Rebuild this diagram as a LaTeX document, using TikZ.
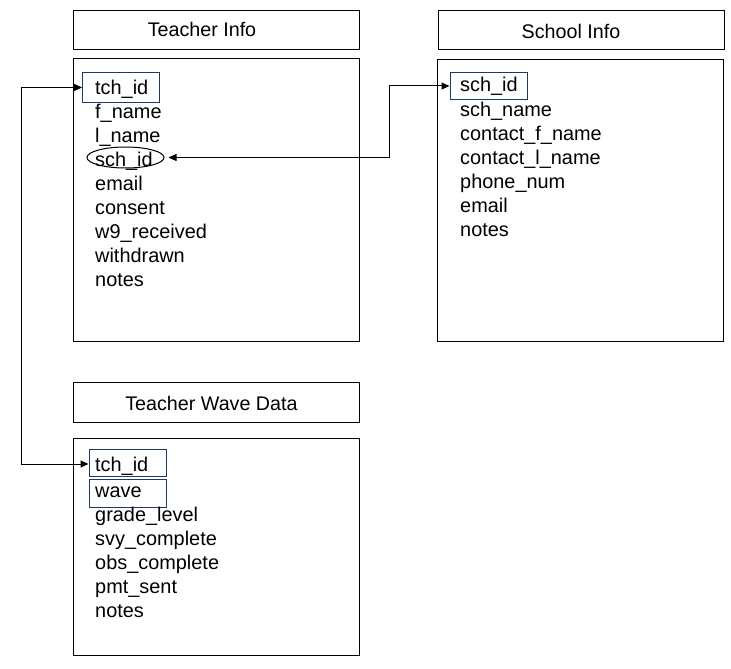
\documentclass[tikz,border=0pt]{standalone}
\usepackage{fontspec}
\setmainfont{Liberation Sans}
\usetikzlibrary{arrows.meta,shapes.geometric}
\definecolor{navy}{RGB}{32,56,100}
\tikzset{
  tbl/.style={draw=black,line width=1pt,fill=none},
  field/.style={anchor=base west,inner sep=0pt,font=\fontsize{19.9}{24}\selectfont},
  ttl/.style={anchor=base,inner sep=0pt,font=\fontsize{19.7}{24}\selectfont},
  keybox/.style={draw=navy,line width=1pt,inner sep=0pt,minimum width=77pt},
  link/.style={line width=1pt,{Triangle[length=8pt,width=7pt]}-{Triangle[length=8pt,width=7pt]}}
}
\begin{document}
\begin{tikzpicture}[x=1pt,y=-1pt]
\useasboundingbox (0,0) rectangle (731,669);
% table frames
\draw[tbl] (73,11) rectangle (359,50);
\draw[tbl] (73,59) rectangle (359,341);
\draw[tbl] (438,11) rectangle (724,50);
\draw[tbl] (437,60) rectangle (723,341);
\draw[tbl] (73,382) rectangle (359,422);
\draw[tbl] (73,438) rectangle (359,655);
% titles
\node[ttl] (t1) at (202,36.5) {Teacher Info};
\node[ttl] (t2) at (571,38.5) {School Info};
\node[ttl] (t3) at (211.5,410.5) {Teacher Wave Data};
% key boxes
\node[keybox,minimum height=29pt] (tiTch) at (121,87.5) {};
\node[keybox,minimum height=26pt] (scSch) at (488.5,86) {};
\node[keybox,minimum height=27pt] (wvTch) at (127.5,462.5) {};
\node[keybox,minimum height=28pt] (wvWave) at (127.5,493) {};
\node[draw=black,line width=1pt,ellipse,inner sep=0pt,minimum width=77pt,minimum height=21pt] (ell) at (125.5,157.5) {};
% Teacher Info fields
\node[field] (a1) at (95,94) {tch\_id};
\node[field] (a2) at (95,118) {f\_name};
\node[field] (a3) at (95,142) {l\_name};
\node[field] (a4) at (95,166) {sch\_id};
\node[field] (a5) at (95,190) {email};
\node[field] (a6) at (95,214) {consent};
\node[field] (a7) at (95,238) {w9\_received};
\node[field] (a8) at (95,262) {withdrawn};
\node[field] (a9) at (95,286) {notes};
% School Info fields
\node[field] (b1) at (460,92) {sch\_id};
\node[field] (b2) at (460,116) {sch\_name};
\node[field] (b3) at (460,140) {contact\_f\_name};
\node[field] (b4) at (460,164) {contact\_l\_name};
\node[field] (b5) at (460,188) {phone\_num};
\node[field] (b6) at (460,212) {email};
\node[field] (b7) at (460,236) {notes};
% Teacher Wave Data fields
\node[field] (c1) at (95,471) {tch\_id};
\node[field] (c2) at (95,497) {wave};
\node[field] (c3) at (95,521) {grade\_level};
\node[field] (c4) at (95,545) {svy\_complete};
\node[field] (c5) at (95,569) {obs\_complete};
\node[field] (c6) at (95,593) {pmt\_sent};
\node[field] (c7) at (95,617) {notes};
% connectors
\coordinate (lc) at (21,0);
\coordinate (rc) at (389,0);
\draw[link] (tiTch.west) -- (tiTch.west -| lc) |- ([yshift=-1.5pt]wvTch.west);
\draw[link,shorten <=4pt] (ell.east) -- (ell.east -| rc) |- (scSch.west);
\end{tikzpicture}
\end{document}
